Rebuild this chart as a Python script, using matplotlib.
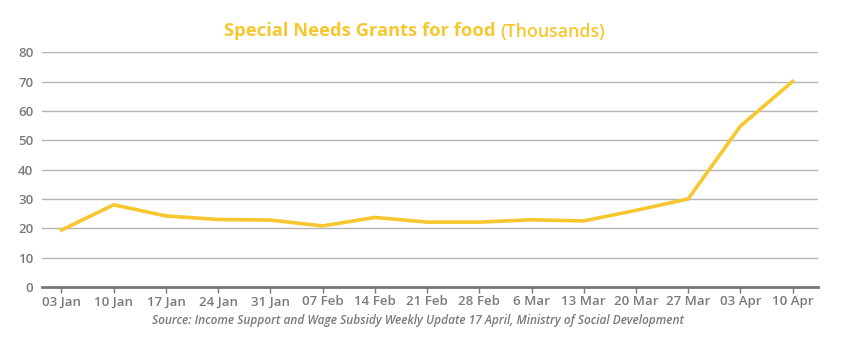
import matplotlib.pyplot as plt

weeks = ['03 Jan', '10 Jan', '17 Jan', '24 Jan', '31 Jan', '07 Feb', '14 Feb', '21 Feb',
         '28 Feb', '6 Mar', '13 Mar', '20 Mar', '27 Mar', '03 Apr', '10 Apr']
grants = [19.4, 28.0, 24.2, 23.0, 22.8, 20.8, 23.7, 22.1, 22.1, 22.9, 22.5, 26.1, 30.0, 54.8, 70.0]

yellow = '#F6C72F'
grey = '#7a7a7a'

plt.rcParams['font.family'] = ['Open Sans', 'DejaVu Sans']

fig = plt.figure(figsize=(8.5, 3.5), dpi=100)
ax = fig.add_axes([0.049, 0.18, 0.913, 0.671])

x = range(len(weeks))
ax.plot(x, grants, color=yellow, linewidth=2.6, solid_joinstyle='miter', zorder=3)

ax.set_xlim(-0.38, 14.48)
ax.set_ylim(0, 80)
ax.set_yticks(range(0, 81, 10))
ax.set_xticks(list(x))
ax.set_xticklabels(weeks)
ax.grid(axis='y', color='#b5b5b5', linewidth=1)
ax.set_axisbelow(True)
for s in ['top', 'right', 'left']:
    ax.spines[s].set_visible(False)
ax.spines['bottom'].set_color('#777777')
ax.spines['bottom'].set_linewidth(2)
ax.tick_params(axis='y', length=0, pad=6, labelsize=9.5, labelcolor=grey)
ax.tick_params(axis='x', length=4, color='#777777', width=1, pad=2, labelsize=9.5, labelcolor=grey)
for lab in ax.get_xticklabels() + ax.get_yticklabels():
    lab.set_fontweight('semibold')

fig.text(0.583, 0.91, 'Special Needs Grants for food', ha='right', va='center',
         fontsize=13.2, fontweight='bold', color=yellow)
fig.text(0.588, 0.91, '(Thousands)', ha='left', va='center',
         fontsize=12.8, fontweight='semibold', color=yellow)
fig.text(0.492, 0.083, 'Source: Income Support and Wage Subsidy Weekly Update 17 April, Ministry of Social Development',
         ha='center', va='center', fontsize=8.6, style='italic', fontweight='semibold', color=grey)

fig.savefig('out.png', dpi=100)
